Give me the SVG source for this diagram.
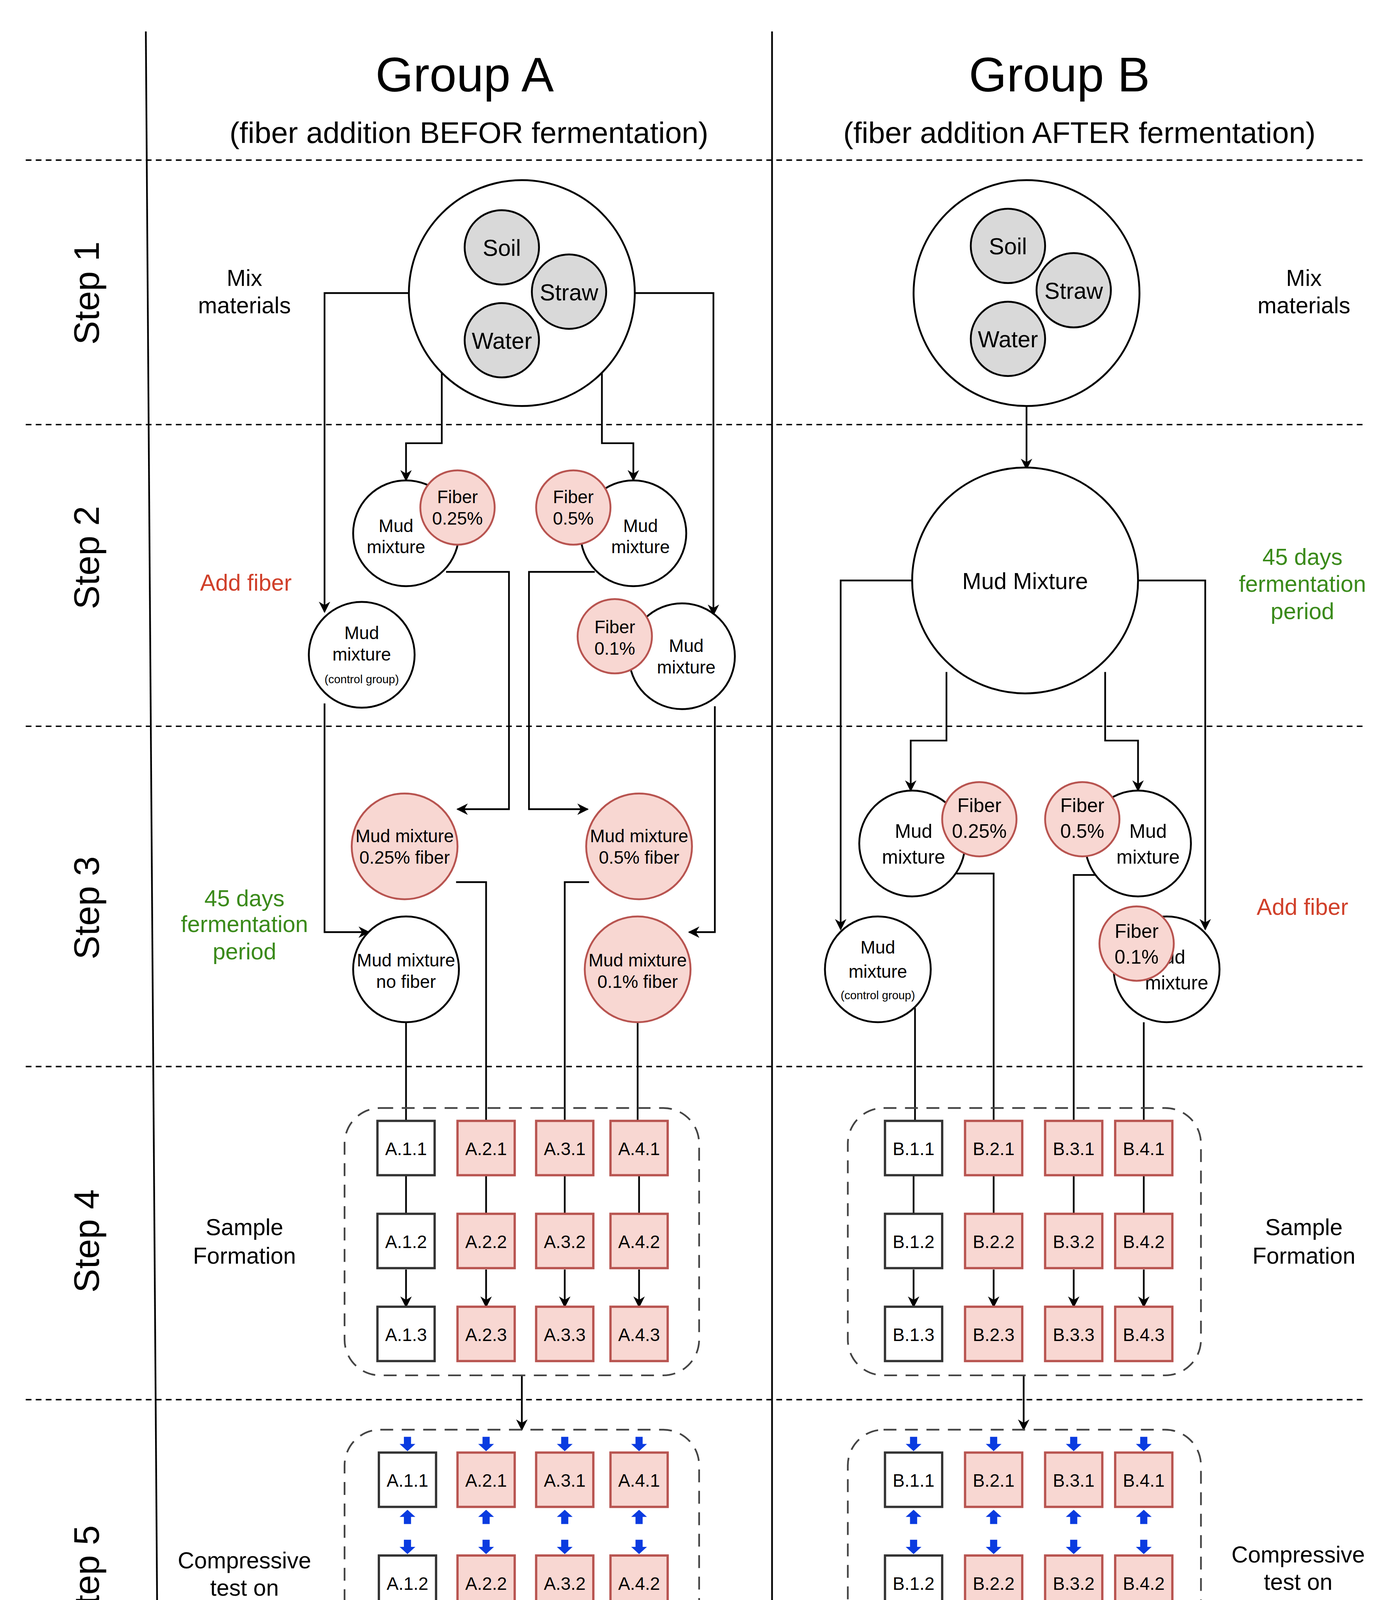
<svg xmlns="http://www.w3.org/2000/svg" xmlns:xlink="http://www.w3.org/1999/xlink" width="3543" height="5741" viewBox="0 0 3543 5741">
<style>
text{font-family:"Liberation Sans",Arial,sans-serif;fill:#000;text-anchor:middle}
.t{font-size:16px}.ti{font-size:34px}.sub{font-size:21px}.st{font-size:25px}
.g{fill:#3a8a1a;font-size:16px}.r{fill:#d0402a;font-size:16px}
.bx{font-size:12.5px}.b6{font-size:12px}
.c{fill:#fff;stroke:#000;stroke-width:1.3}
.gr{fill:#d9d9d9;stroke:#000;stroke-width:1.3}
.pk{fill:#f8d7d2;stroke:#b85450;stroke-width:1.3}
.wb{fill:#fff;stroke:#333;stroke-width:1.6}
.pb{fill:#f8d7d2;stroke:#b85450;stroke-width:1.6}
.ln{fill:none;stroke:#000;stroke-width:1.2}
.dash{fill:none;stroke:#000;stroke-width:1;stroke-dasharray:4 3}
.ct{fill:none;stroke:#444;stroke-width:1.2;stroke-dasharray:9 6}
.cd{fill:none;stroke:#333;stroke-width:1.1;stroke-dasharray:5 4}
</style>
<defs>
<marker id="a" viewBox="0 0 10 10" refX="9" refY="5" markerWidth="8" markerHeight="8" markerUnits="userSpaceOnUse" orient="auto"><path d="M0,0L10,5L0,10L3,5z" fill="#000"/></marker>
<path id="dn" d="M-2.5,-10H2.5V-5H5.5L0,0L-5.5,-5H-2.5Z" fill="#0a3be0"/>
<path id="up" d="M-2.5,10H2.5V5H5.5L0,0L-5.5,5H-2.5Z" fill="#0a3be0"/>
</defs>
<rect width="3543" height="5741" fill="#fff"/>
<g transform="scale(3.66)">
<g id="grid">
<line x1="102" y1="22" x2="113" y2="1555" stroke="#000" stroke-width="1.2"/>
<line x1="540" y1="22" x2="540" y2="1237" stroke="#000" stroke-width="1.2"/>
<line x1="18" y1="112" x2="953" y2="112" class="dash"/>
<line x1="18" y1="297" x2="953" y2="297" class="dash"/>
<line x1="18" y1="508" x2="953" y2="508" class="dash"/>
<line x1="18" y1="746" x2="953" y2="746" class="dash"/>
<line x1="18" y1="979" x2="953" y2="979" class="dash"/>
<line x1="18" y1="1237" x2="953" y2="1237" class="dash"/>
<line x1="18" y1="1540" x2="953" y2="1540" class="dash"/>
</g>
<g id="titles">
<text x="325" y="64" class="ti">Group A</text>
<text x="328" y="100" class="sub">(fiber addition BEFOR fermentation)</text>
<text x="741" y="64" class="ti">Group B</text>
<text x="755" y="100" class="sub">(fiber addition AFTER fermentation)</text>
<text class="st" transform="translate(69,205) rotate(-90)">Step 1</text>
<text class="st" transform="translate(69,390) rotate(-90)">Step 2</text>
<text class="st" transform="translate(69,635) rotate(-90)">Step 3</text>
<text class="st" transform="translate(69,868) rotate(-90)">Step 4</text>
<text class="st" transform="translate(69,1103) rotate(-90)">Step 5</text>
<text class="st" transform="translate(73,1373) rotate(-90)">Step 6</text>
</g>
<g id="labels">
<text x="171" y="200" class="t">Mix</text><text x="171" y="219" class="t">materials</text>
<text x="912" y="200" class="t">Mix</text><text x="912" y="219" class="t">materials</text>
<text x="172" y="413" class="r">Add fiber</text>
<text x="911" y="640" class="r">Add fiber</text>
<text x="171" y="634" class="g">45 days</text><text x="171" y="652" class="g">fermentation</text><text x="171" y="671" class="g">period</text>
<text x="911" y="395" class="g">45 days</text><text x="911" y="414" class="g">fermentation</text><text x="911" y="433" class="g">period</text>
<text x="171" y="864" class="t">Sample</text><text x="171" y="884" class="t">Formation</text>
<text x="912" y="864" class="t">Sample</text><text x="912" y="884" class="t">Formation</text>
<text x="171" y="1097" class="t">Compressive</text><text x="171" y="1116" class="t">test on</text><text x="171" y="1135" class="t">samples</text>
<text x="908" y="1093" class="t">Compressive</text><text x="908" y="1112" class="t">test on</text><text x="908" y="1131" class="t">samples</text>
<text x="174" y="1356" class="t">Compare</text><text x="174" y="1375" class="t">between</text><text x="174" y="1393" class="t">observations of</text><text x="174" y="1412" class="t">compressive</text><text x="174" y="1430" class="t">strength</text>
<text x="364" y="1254" style="font-size:14px">Between fiber ratio of group A</text>
<text x="725" y="1254" style="font-size:14px">Between fiber ratio of group B</text>
<text x="550" y="1530" style="font-size:14px">Between fiber ratios of Group A and B</text>
</g>
<g id="connectors">
<!-- A step1 -->
<path class="ln" d="M286,205H227V428" marker-end="url(#a)"/>
<path class="ln" d="M444,205H499V430" marker-end="url(#a)"/>
<path class="ln" d="M309,260V310H284V336" marker-end="url(#a)"/>
<path class="ln" d="M421,260V310H443V336" marker-end="url(#a)"/>
<path class="ln" d="M312,400H356V566H320" marker-end="url(#a)"/>
<path class="ln" d="M416,400H370V566H411" marker-end="url(#a)"/>
<path class="ln" d="M227,492V652H258" marker-end="url(#a)"/>
<path class="ln" d="M500,494V652H482" marker-end="url(#a)"/>
<path class="ln" d="M284,715V784"/>
<path class="ln" d="M319,617H340V784"/>
<path class="ln" d="M412,617H395V784"/>
<path class="ln" d="M446,715V784"/>
<!-- B -->
<path class="ln" d="M718,284V328" marker-end="url(#a)"/>
<path class="ln" d="M639,406H588V650" marker-end="url(#a)"/>
<path class="ln" d="M796,406H843V650" marker-end="url(#a)"/>
<path class="ln" d="M662,470V518H637V553" marker-end="url(#a)"/>
<path class="ln" d="M773,470V518H796V553" marker-end="url(#a)"/>
<path class="ln" d="M640,705V784"/>
<path class="ln" d="M669,611H695V784"/>
<path class="ln" d="M780,612H751V784"/>
<path class="ln" d="M800,715V784"/>
<!-- step4 inner -->
<path class="ln" d="M284,822V849M284,888V914" marker-end="url(#a)"/>
<path class="ln" d="M340,822V849M340,888V914" marker-end="url(#a)"/>
<path class="ln" d="M395,822V849M395,888V914" marker-end="url(#a)"/>
<path class="ln" d="M447,822V849M447,888V914" marker-end="url(#a)"/>
<path class="ln" d="M639,822V849M639,888V914" marker-end="url(#a)"/>
<path class="ln" d="M695,822V849M695,888V914" marker-end="url(#a)"/>
<path class="ln" d="M751,822V849M751,888V914" marker-end="url(#a)"/>
<path class="ln" d="M800,822V849M800,888V914" marker-end="url(#a)"/>
<path class="ln" d="M365,962V1000" marker-end="url(#a)"/>
<path class="ln" d="M716,962V1000" marker-end="url(#a)"/>
<!-- step6 top -->
<path class="ln" d="M268,1262H467.5M268,1262V1279M333,1262V1279M398,1262V1279M467.5,1262V1279"/>
<path class="ln" d="M268,1265V1279" marker-end="url(#a)"/><path class="ln" d="M333,1265V1279" marker-end="url(#a)"/><path class="ln" d="M398,1265V1279" marker-end="url(#a)"/><path class="ln" d="M467.5,1265V1279" marker-end="url(#a)"/>
<path class="ln" d="M621,1262H821"/>
<path class="ln" d="M621,1262V1279" marker-end="url(#a)"/><path class="ln" d="M687,1262V1279" marker-end="url(#a)"/><path class="ln" d="M751,1262V1279" marker-end="url(#a)"/><path class="ln" d="M821,1262V1279" marker-end="url(#a)"/>
<!-- step6 bottom -->
<path class="ln" d="M268,1512H622V1466" marker-end="url(#a)"/><path class="ln" d="M268,1512V1466" marker-end="url(#a)"/>
<path class="ln" d="M333,1504H685V1466" marker-end="url(#a)"/><path class="ln" d="M333,1504V1466" marker-end="url(#a)"/>
<path class="ln" d="M398,1496H751V1466" marker-end="url(#a)"/><path class="ln" d="M398,1496V1466" marker-end="url(#a)"/>
<path class="ln" d="M467.5,1486H820V1466" marker-end="url(#a)"/><path class="ln" d="M467.5,1486V1466" marker-end="url(#a)"/>
</g>
<g id="mixA"><circle cx="365" cy="205" r="79" class="c"/>
<circle cx="351" cy="173" r="26" class="gr"/><text x="351" y="179" class="t">Soil</text>
<circle cx="398" cy="204" r="26" class="gr"/><text x="398" y="210" class="t">Straw</text>
<circle cx="351" cy="238" r="26" class="gr"/><text x="351" y="244" class="t">Water</text></g>
<g id="mixB"><circle cx="718" cy="205" r="79" class="c"/>
<circle cx="705" cy="172" r="26" class="gr"/><text x="705" y="178" class="t">Soil</text>
<circle cx="751" cy="203" r="26" class="gr"/><text x="751" y="209" class="t">Straw</text>
<circle cx="705" cy="237" r="26" class="gr"/><text x="705" y="243" class="t">Water</text></g>
<g id="s2A" style="font-size:12.5px">
<g id="a1"><circle cx="284" cy="373" r="37" class="c"/><text x="277" y="372" style="font-size:12.5px">Mud</text><text x="277" y="387" style="font-size:12.5px">mixture</text>
<circle cx="320" cy="355" r="26" class="pk"/><text x="320" y="352" style="font-size:12.5px">Fiber</text><text x="320" y="367" style="font-size:12.5px">0.25%</text></g>
<g id="a2"><circle cx="443" cy="373" r="37" class="c"/><text x="448" y="372" style="font-size:12.5px">Mud</text><text x="448" y="387" style="font-size:12.5px">mixture</text>
<circle cx="401" cy="355" r="26" class="pk"/><text x="401" y="352" style="font-size:12.5px">Fiber</text><text x="401" y="367" style="font-size:12.5px">0.5%</text></g>
<g id="a0"><circle cx="253" cy="458" r="37" class="c"/><text x="253" y="447" style="font-size:12.5px">Mud</text><text x="253" y="462" style="font-size:12.5px">mixture</text><text x="253" y="478" style="font-size:8px">(control group)</text></g>
<g id="a3"><circle cx="477" cy="459" r="37" class="c"/><text x="480" y="456" style="font-size:12.5px">Mud</text><text x="480" y="471" style="font-size:12.5px">mixture</text>
<circle cx="430" cy="445" r="26" class="pk"/><text x="430" y="443" style="font-size:12.5px">Fiber</text><text x="430" y="458" style="font-size:12.5px">0.1%</text></g>
</g>
<g id="s3A">
<g id="f25"><circle cx="283" cy="592" r="37" class="pk"/><text x="283" y="589" style="font-size:12.5px">Mud mixture</text><text x="283" y="604" style="font-size:12.5px">0.25% fiber</text></g>
<g id="f50"><circle cx="447" cy="592" r="37" class="pk"/><text x="447" y="589" style="font-size:12.5px">Mud mixture</text><text x="447" y="604" style="font-size:12.5px">0.5% fiber</text></g>
<g id="f0"><circle cx="284" cy="678" r="37" class="c"/><text x="284" y="676" style="font-size:12.5px">Mud mixture</text><text x="284" y="691" style="font-size:12.5px">no fiber</text></g>
<g id="f10"><circle cx="446" cy="678" r="37" class="pk"/><text x="446" y="676" style="font-size:12.5px">Mud mixture</text><text x="446" y="691" style="font-size:12.5px">0.1% fiber</text></g>
</g>
<g id="s2B">
<g id="mm"><circle cx="717" cy="406" r="79" class="c"/><text x="717" y="412" class="t">Mud Mixture</text></g>
<g id="b1"><circle cx="638" cy="590" r="37" class="c"/><text x="639" y="586" style="font-size:13.5px">Mud</text><text x="639" y="604" style="font-size:13.5px">mixture</text>
<circle cx="685" cy="573" r="26" class="pk"/><text x="685" y="568" style="font-size:13.5px">Fiber</text><text x="685" y="586" style="font-size:13.5px">0.25%</text></g>
<g id="b2"><circle cx="796" cy="590" r="37" class="c"/><text x="803" y="586" style="font-size:13.5px">Mud</text><text x="803" y="604" style="font-size:13.5px">mixture</text>
<circle cx="757" cy="573" r="26" class="pk"/><text x="757" y="568" style="font-size:13.5px">Fiber</text><text x="757" y="586" style="font-size:13.5px">0.5%</text></g>
<g id="b0"><circle cx="614" cy="678" r="37" class="c"/><text x="614" y="667" style="font-size:12.5px">Mud</text><text x="614" y="684" style="font-size:12.5px">mixture</text><text x="614" y="699" style="font-size:8px">(control group)</text></g>
<g id="b3"><circle cx="816" cy="678" r="37" class="c"/><text x="816" y="674" style="font-size:13.5px">Mud</text><text x="823" y="692" style="font-size:13.5px">mixture</text>
<circle cx="795" cy="660" r="26" class="pk"/><text x="795" y="656" style="font-size:13.5px">Fiber</text><text x="795" y="674" style="font-size:13.5px">0.1%</text></g>
</g>
<g id="step4">
<rect x="241" y="775" width="248" height="187" rx="25" class="ct"/>
<rect x="593" y="775" width="247" height="187" rx="25" class="ct"/>
<g class="bx">
<rect x="264" y="784" width="40" height="38" class="wb"/><text x="284" y="808" class="bx">A.1.1</text>
<rect x="264" y="849" width="40" height="38" class="wb"/><text x="284" y="873" class="bx">A.1.2</text>
<rect x="264" y="914" width="40" height="38" class="wb"/><text x="284" y="938" class="bx">A.1.3</text>
<rect x="320" y="784" width="40" height="38" class="pb"/><text x="340" y="808" class="bx">A.2.1</text>
<rect x="320" y="849" width="40" height="38" class="pb"/><text x="340" y="873" class="bx">A.2.2</text>
<rect x="320" y="914" width="40" height="38" class="pb"/><text x="340" y="938" class="bx">A.2.3</text>
<rect x="375" y="784" width="40" height="38" class="pb"/><text x="395" y="808" class="bx">A.3.1</text>
<rect x="375" y="849" width="40" height="38" class="pb"/><text x="395" y="873" class="bx">A.3.2</text>
<rect x="375" y="914" width="40" height="38" class="pb"/><text x="395" y="938" class="bx">A.3.3</text>
<rect x="427" y="784" width="40" height="38" class="pb"/><text x="447" y="808" class="bx">A.4.1</text>
<rect x="427" y="849" width="40" height="38" class="pb"/><text x="447" y="873" class="bx">A.4.2</text>
<rect x="427" y="914" width="40" height="38" class="pb"/><text x="447" y="938" class="bx">A.4.3</text>
<rect x="619" y="784" width="40" height="38" class="wb"/><text x="639" y="808" class="bx">B.1.1</text>
<rect x="619" y="849" width="40" height="38" class="wb"/><text x="639" y="873" class="bx">B.1.2</text>
<rect x="619" y="914" width="40" height="38" class="wb"/><text x="639" y="938" class="bx">B.1.3</text>
<rect x="675" y="784" width="40" height="38" class="pb"/><text x="695" y="808" class="bx">B.2.1</text>
<rect x="675" y="849" width="40" height="38" class="pb"/><text x="695" y="873" class="bx">B.2.2</text>
<rect x="675" y="914" width="40" height="38" class="pb"/><text x="695" y="938" class="bx">B.2.3</text>
<rect x="731" y="784" width="40" height="38" class="pb"/><text x="751" y="808" class="bx">B.3.1</text>
<rect x="731" y="849" width="40" height="38" class="pb"/><text x="751" y="873" class="bx">B.3.2</text>
<rect x="731" y="914" width="40" height="38" class="pb"/><text x="751" y="938" class="bx">B.3.3</text>
<rect x="780" y="784" width="40" height="38" class="pb"/><text x="800" y="808" class="bx">B.4.1</text>
<rect x="780" y="849" width="40" height="38" class="pb"/><text x="800" y="873" class="bx">B.4.2</text>
<rect x="780" y="914" width="40" height="38" class="pb"/><text x="800" y="938" class="bx">B.4.3</text>
</g></g>
<g id="step5">
<rect x="241" y="1000" width="248" height="216" rx="25" class="ct"/>
<rect x="593" y="1000" width="247" height="216" rx="25" class="ct"/>
<rect x="265" y="1016" width="40" height="38" class="wb"/><text x="285" y="1040" class="bx">A.1.1</text>
<rect x="265" y="1088" width="40" height="38" class="wb"/><text x="285" y="1112" class="bx">A.1.2</text>
<rect x="265" y="1161" width="40" height="38" class="wb"/><text x="285" y="1185" class="bx">A.1.3</text>
<rect x="320" y="1016" width="40" height="38" class="pb"/><text x="340" y="1040" class="bx">A.2.1</text>
<rect x="320" y="1088" width="40" height="38" class="pb"/><text x="340" y="1112" class="bx">A.2.2</text>
<rect x="320" y="1161" width="40" height="38" class="pb"/><text x="340" y="1185" class="bx">A.2.3</text>
<rect x="375" y="1016" width="40" height="38" class="pb"/><text x="395" y="1040" class="bx">A.3.1</text>
<rect x="375" y="1088" width="40" height="38" class="pb"/><text x="395" y="1112" class="bx">A.3.2</text>
<rect x="375" y="1161" width="40" height="38" class="pb"/><text x="395" y="1185" class="bx">A.3.3</text>
<rect x="427" y="1016" width="40" height="38" class="pb"/><text x="447" y="1040" class="bx">A.4.1</text>
<rect x="427" y="1088" width="40" height="38" class="pb"/><text x="447" y="1112" class="bx">A.4.2</text>
<rect x="427" y="1161" width="40" height="38" class="pb"/><text x="447" y="1185" class="bx">A.4.3</text>
<rect x="619" y="1016" width="40" height="38" class="wb"/><text x="639" y="1040" class="bx">B.1.1</text>
<rect x="619" y="1088" width="40" height="38" class="wb"/><text x="639" y="1112" class="bx">B.1.2</text>
<rect x="619" y="1161" width="40" height="38" class="wb"/><text x="639" y="1185" class="bx">B.1.3</text>
<rect x="675" y="1016" width="40" height="38" class="pb"/><text x="695" y="1040" class="bx">B.2.1</text>
<rect x="675" y="1088" width="40" height="38" class="pb"/><text x="695" y="1112" class="bx">B.2.2</text>
<rect x="675" y="1161" width="40" height="38" class="pb"/><text x="695" y="1185" class="bx">B.2.3</text>
<rect x="731" y="1016" width="40" height="38" class="pb"/><text x="751" y="1040" class="bx">B.3.1</text>
<rect x="731" y="1088" width="40" height="38" class="pb"/><text x="751" y="1112" class="bx">B.3.2</text>
<rect x="731" y="1161" width="40" height="38" class="pb"/><text x="751" y="1185" class="bx">B.3.3</text>
<rect x="780" y="1016" width="40" height="38" class="pb"/><text x="800" y="1040" class="bx">B.4.1</text>
<rect x="780" y="1088" width="40" height="38" class="pb"/><text x="800" y="1112" class="bx">B.4.2</text>
<rect x="780" y="1161" width="40" height="38" class="pb"/><text x="800" y="1185" class="bx">B.4.3</text>
<g id="blueA1" transform="translate(285,0)"><use href="#dn" y="1015"/><use href="#up" y="1056"/><use href="#dn" y="1087"/><use href="#up" y="1128"/><use href="#dn" y="1160"/><use href="#up" y="1201"/></g>
<g transform="translate(340,0)"><use href="#dn" y="1015"/><use href="#up" y="1056"/><use href="#dn" y="1087"/><use href="#up" y="1128"/><use href="#dn" y="1160"/><use href="#up" y="1201"/></g>
<g transform="translate(395,0)"><use href="#dn" y="1015"/><use href="#up" y="1056"/><use href="#dn" y="1087"/><use href="#up" y="1128"/><use href="#dn" y="1160"/><use href="#up" y="1201"/></g>
<g transform="translate(447,0)"><use href="#dn" y="1015"/><use href="#up" y="1056"/><use href="#dn" y="1087"/><use href="#up" y="1128"/><use href="#dn" y="1160"/><use href="#up" y="1201"/></g>
<g transform="translate(639,0)"><use href="#dn" y="1015"/><use href="#up" y="1056"/><use href="#dn" y="1087"/><use href="#up" y="1128"/><use href="#dn" y="1160"/><use href="#up" y="1201"/></g>
<g transform="translate(695,0)"><use href="#dn" y="1015"/><use href="#up" y="1056"/><use href="#dn" y="1087"/><use href="#up" y="1128"/><use href="#dn" y="1160"/><use href="#up" y="1201"/></g>
<g transform="translate(751,0)"><use href="#dn" y="1015"/><use href="#up" y="1056"/><use href="#dn" y="1087"/><use href="#up" y="1128"/><use href="#dn" y="1160"/><use href="#up" y="1201"/></g>
<g transform="translate(800,0)"><use href="#dn" y="1015"/><use href="#up" y="1056"/><use href="#dn" y="1087"/><use href="#up" y="1128"/><use href="#dn" y="1160"/><use href="#up" y="1201"/></g>
</g>
<g id="step6">
<rect x="244" y="1280" width="52" height="185" class="cd"/>
<rect x="305" y="1280" width="53" height="185" class="cd"/>
<rect x="372" y="1280" width="53" height="185" class="cd"/>
<rect x="440" y="1280" width="53" height="185" class="cd"/>
<rect x="596" y="1280" width="52" height="185" class="cd"/>
<rect x="661" y="1276" width="52" height="190" class="cd"/>
<rect x="726" y="1280" width="52" height="185" class="cd"/>
<rect x="794" y="1280" width="53" height="185" class="cd"/>
<rect x="250" y="1287" width="39" height="39" class="wb"/><text x="269" y="1311" class="b6">A.1.1</text>
<rect x="250" y="1352" width="39" height="39" class="wb"/><text x="269" y="1376" class="b6">A.1.2</text>
<rect x="250" y="1417" width="39" height="39" class="wb"/><text x="269" y="1441" class="b6">A.1.3</text>
<rect x="313" y="1287" width="39" height="39" class="pb"/><text x="332" y="1311" class="b6">A.2.1</text>
<rect x="313" y="1352" width="39" height="39" class="pb"/><text x="332" y="1376" class="b6">A.2.2</text>
<rect x="313" y="1417" width="39" height="39" class="pb"/><text x="332" y="1441" class="b6">A.2.3</text>
<rect x="379" y="1287" width="39" height="39" class="pb"/><text x="398" y="1311" class="b6">A.3.1</text>
<rect x="379" y="1352" width="39" height="39" class="pb"/><text x="398" y="1376" class="b6">A.3.2</text>
<rect x="379" y="1417" width="39" height="39" class="pb"/><text x="398" y="1441" class="b6">A.3.3</text>
<rect x="446" y="1287" width="40" height="39" class="pb"/><text x="466" y="1311" class="b6">A.4.1</text>
<rect x="446" y="1352" width="40" height="39" class="pb"/><text x="466" y="1376" class="b6">A.4.2</text>
<rect x="446" y="1417" width="40" height="39" class="pb"/><text x="466" y="1441" class="b6">A.4.3</text>
<rect x="602" y="1287" width="39" height="39" class="wb"/><text x="621" y="1311" class="b6">B.1.1</text>
<rect x="602" y="1352" width="39" height="39" class="wb"/><text x="621" y="1376" class="b6">B.1.2</text>
<rect x="602" y="1417" width="39" height="39" class="wb"/><text x="621" y="1441" class="b6">B.1.3</text>
<rect x="667" y="1287" width="40" height="39" class="pb"/><text x="687" y="1311" class="b6">B.2.1</text>
<rect x="667" y="1352" width="40" height="39" class="pb"/><text x="687" y="1376" class="b6">B.2.2</text>
<rect x="667" y="1417" width="40" height="39" class="pb"/><text x="687" y="1441" class="b6">B.2.3</text>
<rect x="732" y="1287" width="40" height="39" class="pb"/><text x="752" y="1311" class="b6">B.3.1</text>
<rect x="732" y="1352" width="40" height="39" class="pb"/><text x="752" y="1376" class="b6">B.3.2</text>
<rect x="732" y="1417" width="40" height="39" class="pb"/><text x="752" y="1441" class="b6">B.3.3</text>
<rect x="801" y="1287" width="39" height="39" class="pb"/><text x="820" y="1311" class="b6">B.4.1</text>
<rect x="801" y="1352" width="39" height="39" class="pb"/><text x="820" y="1376" class="b6">B.4.2</text>
<rect x="801" y="1417" width="39" height="39" class="pb"/><text x="820" y="1441" class="b6">B.4.3</text>
</g>
</g>
</svg>
